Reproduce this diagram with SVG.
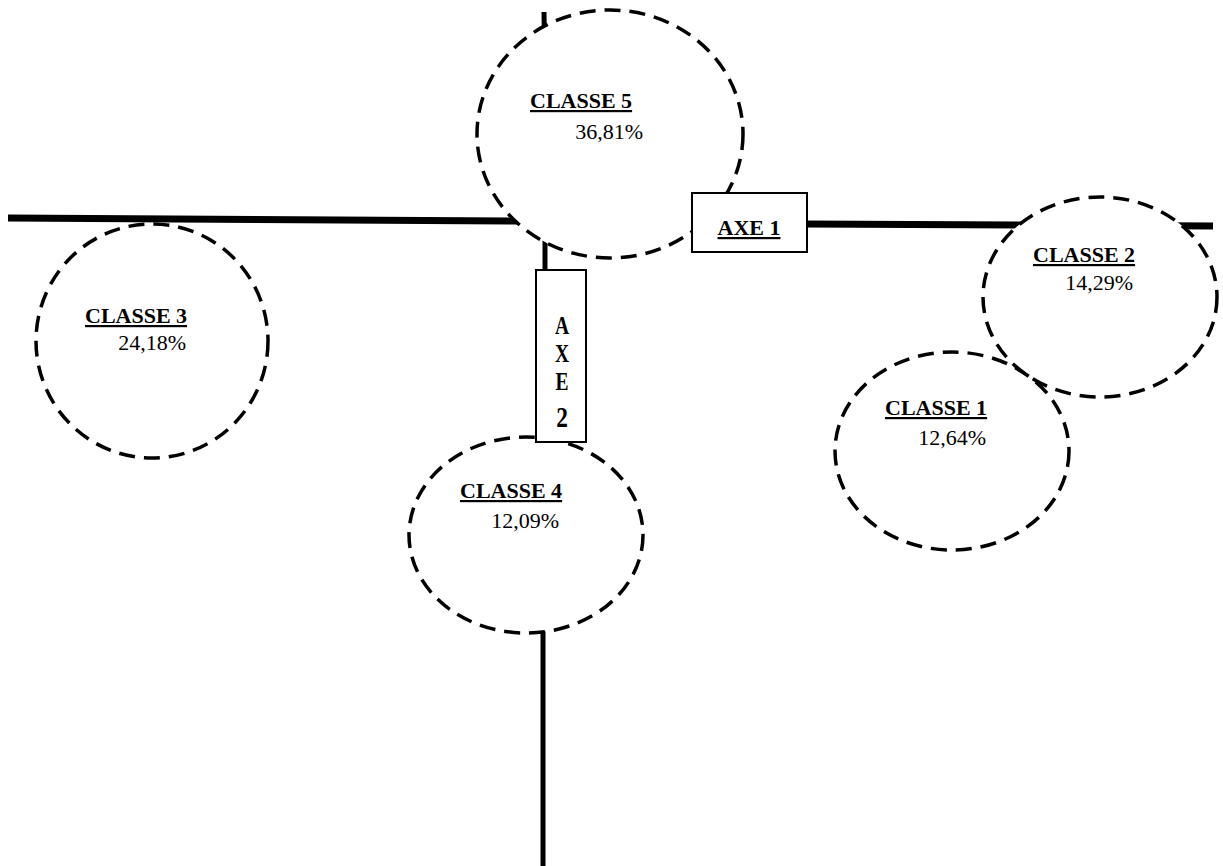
<svg xmlns="http://www.w3.org/2000/svg" width="1223" height="866" viewBox="0 0 1223 866">
<style>
.cl{fill:#fff;stroke:#000;stroke-width:3.5;stroke-dasharray:16 9}
.clo{fill:none;stroke:#000;stroke-width:3.5;stroke-dasharray:16 9}
.ax{stroke:#000;fill:none}
.t{font-family:"Liberation Serif",serif;font-size:22px;fill:#000}
.b{font-weight:bold;text-decoration:underline}
.box{fill:#fff;stroke:#000;stroke-width:2}
.v{font-family:"Liberation Serif",serif;font-weight:bold;font-size:25px;fill:#000;text-anchor:middle}
</style>
<rect width="1223" height="866" fill="#fff"/>
<g id="connectors">
<line class="ax" x1="8" y1="218" x2="525" y2="221" stroke-width="7"/>
<line class="ax" x1="805" y1="224" x2="1213" y2="226" stroke-width="7"/>
<line class="ax" x1="544" y1="12" x2="545" y2="80" stroke-width="5"/>
<line class="ax" x1="545" y1="225" x2="545" y2="272" stroke-width="5"/>
<line class="ax" x1="543" y1="630" x2="543" y2="866" stroke-width="5"/>
</g>
<g id="classe3">
<ellipse class="cl" cx="152" cy="341" rx="116" ry="117"/>
<text class="t b" x="85" y="323">CLASSE 3</text>
<text class="t" x="186" y="350" text-anchor="end">24,18%</text>
</g>
<g id="classe5">
<ellipse class="cl" cx="610" cy="134" rx="133" ry="124"/>
<text class="t b" x="530" y="108">CLASSE 5</text>
<text class="t" x="643" y="139" text-anchor="end">36,81%</text>
</g>
<g id="classe2">
<ellipse class="cl" cx="1100" cy="297" rx="117" ry="100"/>
<text class="t b" x="1033" y="262">CLASSE 2</text>
<text class="t" x="1133" y="290" text-anchor="end">14,29%</text>
</g>
<g id="classe1">
<ellipse class="clo" cx="952" cy="451" rx="117" ry="99"/>
<text class="t b" x="885" y="415">CLASSE 1</text>
<text class="t" x="986" y="445" text-anchor="end">12,64%</text>
</g>
<g id="classe4">
<ellipse class="cl" cx="526" cy="535" rx="117" ry="98"/>
<text class="t b" x="460" y="498">CLASSE 4</text>
<text class="t" x="559" y="528" text-anchor="end">12,09%</text>
</g>
<g id="axe1">
<rect class="box" x="692" y="193" width="115" height="59"/>
<text class="t b" x="749" y="235" text-anchor="middle">AXE 1</text>
</g>
<g id="axe2">
<rect class="box" x="536" y="270" width="50" height="172"/>
<g transform="translate(562,0) scale(0.78,1)">
<text class="v" x="0" y="334">A</text>
<text class="v" x="0" y="362">X</text>
<text class="v" x="0" y="390">E</text>
<text class="v" x="0" y="427" style="font-size:30px">2</text>
</g>
</g>
</svg>
